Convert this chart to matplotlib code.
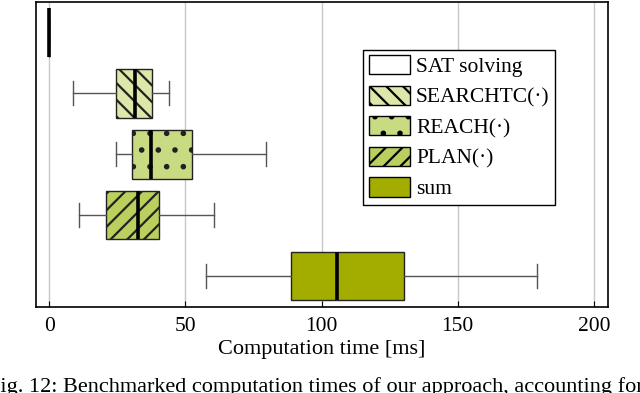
import matplotlib.pyplot as plt
from matplotlib.patches import Patch

plt.rcParams['font.family'] = ['Liberation Serif', 'DejaVu Serif']
plt.rcParams['hatch.linewidth'] = 1.6

# box statistics, top to bottom
labels = ["SAT solving", "SEARCHTC(·)", "REACH(·)", "PLAN(·)", "sum"]
whislo = [0.0, 8.7, 24.4, 11.0, 57.4]
q1 = [0.0, 24.6, 30.4, 20.9, 88.7]
med = [0.0, 31.5, 37.3, 32.5, 105.8]
q3 = [0.0, 37.6, 52.4, 40.4, 130.1]
whishi = [0.0, 43.9, 79.5, 60.4, 179.0]

colors = ["white", "#dde7a9", "#c9db82", "#b9d05e", "#a3ad00"]
hatches = ["", "\\\\", ".", "//", ""]

stats = []
for i in range(len(labels)):
    stats.append(dict(label=labels[i], whislo=whislo[i], q1=q1[i], med=med[i],
                      q3=q3[i], whishi=whishi[i], fliers=[]))

fig = plt.figure(figsize=(6.4, 3.93), dpi=100)
ax = fig.add_axes([0.0558, 0.22, 0.8947, 0.7757])

positions = list(range(len(labels), 0, -1))
bp = ax.bxp(stats, positions=positions, vert=False, widths=0.8,
            patch_artist=True, showfliers=False,
            boxprops=dict(edgecolor="#222222", linewidth=1.0),
            whiskerprops=dict(color="#555555", linewidth=1.0),
            capprops=dict(color="#555555", linewidth=1.0),
            medianprops=dict(color="black", linewidth=2.6),
            capwidths=0.4)

for box, c, h in zip(bp["boxes"], colors, hatches):
    box.set_facecolor(c)
    box.set_hatch(h)

ax.set_xlim(-5, 205.3)
ax.set_ylim(0.5, len(labels) + 0.5)
ax.set_xticks([0, 50, 100, 150, 200])
ax.set_yticks([])
ax.tick_params(axis="x", direction="in", length=4, labelsize=15.5, pad=7.5)
ax.grid(axis="x", color="#c8c8c8", linewidth=1.0)
ax.set_axisbelow(True)
for s in ax.spines.values():
    s.set_linewidth(1.2)
ax.set_xlabel("Computation time [ms]", fontsize=16, labelpad=3)

handles = [Patch(facecolor=c, edgecolor="black", hatch=h, linewidth=1.0)
           for c, h in zip(colors, hatches)]
leg = ax.legend(handles, labels, loc="upper left", bbox_to_anchor=(0.572, 0.843),
                borderaxespad=0, fontsize=15.5, fancybox=False, framealpha=1,
                edgecolor="black", handlelength=1.9, handleheight=1.0,
                handletextpad=0.3, labelspacing=0.4, borderpad=0.25)
leg.get_frame().set_linewidth(1.0)

fig.text(-0.018, 0.003,
         "Fig. 12: Benchmarked computation times of our approach, accounting for",
         fontsize=16, ha="left", va="baseline")

fig.savefig("out.png", dpi=100)
